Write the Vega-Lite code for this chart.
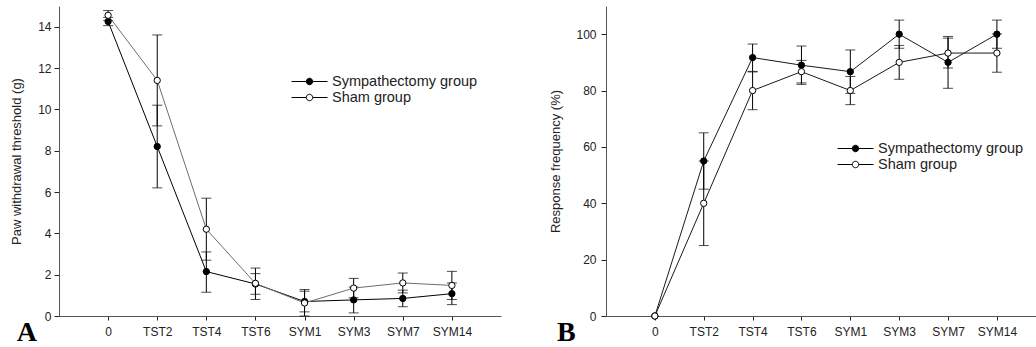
{
  "$schema": "https://vega.github.io/schema/vega-lite/v6.json",
  "padding": {"left": 10, "top": 6, "right": 0, "bottom": 0},
  "spacing": 48,
  "background": "white",
  "datasets": {
    "A": [
      {"t": 0, "group": "Sympathectomy group", "mean": 14.25, "lo": 14.05, "hi": 14.45},
      {"t": 1, "group": "Sympathectomy group", "mean": 8.2, "lo": 6.2, "hi": 10.2},
      {"t": 2, "group": "Sympathectomy group", "mean": 2.15, "lo": 1.15, "hi": 3.1},
      {"t": 3, "group": "Sympathectomy group", "mean": 1.55, "lo": 1.05, "hi": 2.05},
      {"t": 4, "group": "Sympathectomy group", "mean": 0.7, "lo": 0.2, "hi": 1.2},
      {"t": 5, "group": "Sympathectomy group", "mean": 0.78, "lo": 0.15, "hi": 1.4},
      {"t": 6, "group": "Sympathectomy group", "mean": 0.85, "lo": 0.45, "hi": 1.25},
      {"t": 7, "group": "Sympathectomy group", "mean": 1.08, "lo": 0.55, "hi": 1.6},
      {"t": 0, "group": "Sham group", "mean": 14.55, "lo": 14.3, "hi": 14.78},
      {"t": 1, "group": "Sham group", "mean": 11.4, "lo": 9.2, "hi": 13.6},
      {"t": 2, "group": "Sham group", "mean": 4.2, "lo": 2.7, "hi": 5.7},
      {"t": 3, "group": "Sham group", "mean": 1.58, "lo": 0.8, "hi": 2.32},
      {"t": 4, "group": "Sham group", "mean": 0.63, "lo": 0.0, "hi": 1.28},
      {"t": 5, "group": "Sham group", "mean": 1.35, "lo": 0.88, "hi": 1.82},
      {"t": 6, "group": "Sham group", "mean": 1.6, "lo": 1.12, "hi": 2.08},
      {"t": 7, "group": "Sham group", "mean": 1.48, "lo": 0.8, "hi": 2.16}
    ],
    "B": [
      {"t": 0, "group": "Sympathectomy group", "mean": 0, "lo": null, "hi": null},
      {"t": 1, "group": "Sympathectomy group", "mean": 55, "lo": 45, "hi": 65},
      {"t": 2, "group": "Sympathectomy group", "mean": 91.7, "lo": 86.8, "hi": 96.5},
      {"t": 3, "group": "Sympathectomy group", "mean": 89, "lo": 82.2, "hi": 95.8},
      {"t": 4, "group": "Sympathectomy group", "mean": 86.7, "lo": 79, "hi": 94.4},
      {"t": 5, "group": "Sympathectomy group", "mean": 100, "lo": 95, "hi": 105},
      {"t": 6, "group": "Sympathectomy group", "mean": 90, "lo": 80.8, "hi": 99.2},
      {"t": 7, "group": "Sympathectomy group", "mean": 100, "lo": 95, "hi": 105},
      {"t": 0, "group": "Sham group", "mean": 0, "lo": null, "hi": null},
      {"t": 1, "group": "Sham group", "mean": 40, "lo": 25, "hi": 55},
      {"t": 2, "group": "Sham group", "mean": 80, "lo": 73.2, "hi": 86.6},
      {"t": 3, "group": "Sham group", "mean": 86.7, "lo": 82.7, "hi": 90.7},
      {"t": 4, "group": "Sham group", "mean": 80, "lo": 75, "hi": 85},
      {"t": 5, "group": "Sham group", "mean": 90, "lo": 84, "hi": 96},
      {"t": 6, "group": "Sham group", "mean": 93.3, "lo": 88, "hi": 98.6},
      {"t": 7, "group": "Sham group", "mean": 93.3, "lo": 86.5, "hi": 100.1}
    ]
  },
  "hconcat": [
    {
      "width": 442,
      "height": 310,
      "data": {"name": "A"},
      "title": {"text": "A", "orient": "bottom", "anchor": "start", "frame": "bounds", "font": "Liberation Serif", "fontSize": 28, "fontWeight": "bold", "color": "black", "dx": 6, "dy": -22},
      "encoding": {
        "x": {"field": "t", "type": "quantitative", "scale": {"domain": [-1, 8], "nice": false, "zero": false},
              "axis": {"title": null, "values": [0, 1, 2, 3, 4, 5, 6, 7], "labelExpr": "['0','TST2','TST4','TST6','SYM1','SYM3','SYM7','SYM14'][datum.value]", "tickSize": 4, "labelPadding": 6, "labelFlush": false}}
      },
      "layer": [
        {
          "mark": {"type": "errorbar", "ticks": true, "size": 10, "thickness": 1, "color": "black"},
          "encoding": {
            "y": {"field": "lo", "type": "quantitative", "title": "Paw withdrawal threshold (g)", "scale": {"domain": [0, 15], "nice": false},
                  "axis": {"values": [0, 2, 4, 6, 8, 10, 12, 14], "tickSize": 5, "labelPadding": 3, "titlePadding": 14}},
            "y2": {"field": "hi"},
            "detail": {"field": "group"}
          }
        },
        {
          "mark": {"type": "line", "strokeWidth": 1},
          "encoding": {
            "y": {"field": "mean", "type": "quantitative", "title": "Paw withdrawal threshold (g)"},
            "detail": {"field": "group"},
            "stroke": {"condition": {"test": "datum.group === 'Sham group'", "value": "#6e6e6e"}, "value": "#000000"}
          }
        },
        {
          "mark": {"type": "point", "filled": true, "shape": "circle", "size": 40, "stroke": "black", "strokeWidth": 1, "opacity": 1},
          "encoding": {
            "y": {"field": "mean", "type": "quantitative", "title": "Paw withdrawal threshold (g)"},
            "fill": {"field": "group", "type": "nominal", "scale": {"domain": ["Sympathectomy group", "Sham group"], "range": ["black", "white"]},
                     "legend": {"title": null, "orient": "none", "legendX": 241, "legendY": 66}}
          }
        }
      ]
    },
    {
      "width": 430,
      "height": 310,
      "data": {"name": "B"},
      "title": {"text": "B", "orient": "bottom", "anchor": "start", "frame": "bounds", "font": "Liberation Serif", "fontSize": 28, "fontWeight": "bold", "color": "black", "dx": 7, "dy": -22},
      "encoding": {
        "x": {"field": "t", "type": "quantitative", "scale": {"domain": [-1, 7.8], "nice": false, "zero": false},
              "axis": {"title": null, "values": [0, 1, 2, 3, 4, 5, 6, 7], "labelExpr": "['0','TST2','TST4','TST6','SYM1','SYM3','SYM7','SYM14'][datum.value]", "tickSize": 4, "labelPadding": 6, "labelFlush": false}}
      },
      "layer": [
        {
          "mark": {"type": "errorbar", "ticks": true, "size": 10, "thickness": 1, "color": "black"},
          "encoding": {
            "y": {"field": "lo", "type": "quantitative", "title": "Response frequency (%)", "scale": {"domain": [0, 110], "nice": false},
                  "axis": {"values": [0, 20, 40, 60, 80, 100], "tickSize": 5, "labelPadding": 5, "titlePadding": 13}},
            "y2": {"field": "hi"},
            "detail": {"field": "group"}
          }
        },
        {
          "mark": {"type": "line", "strokeWidth": 1, "stroke": "#1a1a1a"},
          "encoding": {
            "y": {"field": "mean", "type": "quantitative", "title": "Response frequency (%)"},
            "detail": {"field": "group"}
          }
        },
        {
          "mark": {"type": "point", "filled": true, "shape": "circle", "size": 40, "stroke": "black", "strokeWidth": 1, "opacity": 1},
          "encoding": {
            "y": {"field": "mean", "type": "quantitative", "title": "Response frequency (%)"},
            "fill": {"field": "group", "type": "nominal", "scale": {"domain": ["Sympathectomy group", "Sham group"], "range": ["black", "white"]},
                     "legend": {"title": null, "orient": "none", "legendX": 240, "legendY": 133}}
          }
        }
      ]
    }
  ],
  "resolve": {"scale": {"fill": "independent"}, "legend": {"fill": "independent"}},
  "config": {
    "view": {"stroke": null},
    "font": "Liberation Sans",
    "axis": {"grid": false, "domainColor": "#555555", "tickColor": "#222222", "labelColor": "#222222", "titleColor": "#222222", "labelFontSize": 12, "titleFontSize": 13, "titleFontWeight": "normal", "labelFont": "Liberation Sans", "titleFont": "Liberation Sans"},
    "legend": {"symbolType": "M-2,0H-0.36M0.36,0H2M-0.36,0A0.36,0.36,0,1,1,0.36,0A0.36,0.36,0,1,1,-0.36,0Z", "symbolSize": 324, "symbolStrokeColor": "black", "symbolStrokeWidth": 1, "labelFontSize": 14.5, "labelOffset": 13, "rowPadding": 0, "padding": 0, "labelColor": "#222222", "labelFont": "Liberation Sans"}
  }
}
